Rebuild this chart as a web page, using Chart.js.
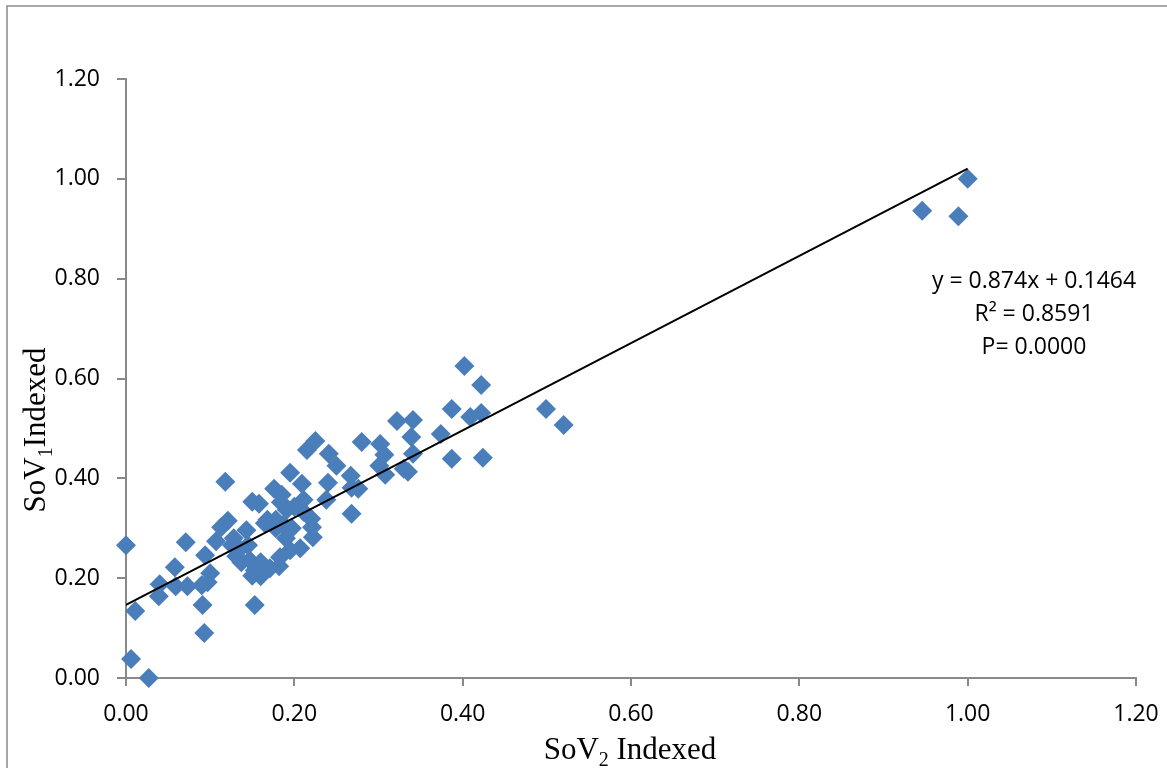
<!DOCTYPE html>
<html lang="en">
<head>
    <meta charset="UTF-8">
    <title>SoV1 vs SoV2 Indexed</title>
    <script src="https://cdn.jsdelivr.net/npm/chart.js"></script>
    <style>
        body { margin: 0; background: #fff; }
        canvas { display: block; }
    </style>
</head>
<body>
    <canvas id="sovChart" width="1167" height="768"></canvas>

    <script>
        // SoV2 Indexed (x) and SoV1 Indexed (y)
        const sov2 = [
            0.000, 0.011, 0.006, 0.027, 0.040, 0.039, 0.058, 0.071, 0.059, 0.073,
            0.090, 0.094, 0.091, 0.093, 0.100, 0.097, 0.107, 0.118, 0.113, 0.121,
            0.126, 0.131, 0.137, 0.143, 0.145, 0.150, 0.158, 0.147, 0.153, 0.153,
            0.162, 0.168, 0.171, 0.176, 0.178, 0.183, 0.182, 0.185, 0.187, 0.191,
            0.195, 0.197, 0.195, 0.207, 0.209, 0.211, 0.211, 0.215, 0.220, 0.221,
            0.222, 0.225, 0.238, 0.240, 0.241, 0.250, 0.267, 0.268, 0.268, 0.276,
            0.280, 0.302, 0.301, 0.307, 0.308, 0.322, 0.330, 0.335, 0.339, 0.341,
            0.341, 0.374, 0.387, 0.387, 0.402, 0.409, 0.422, 0.422, 0.424, 0.499,
            0.520, 0.946, 0.989, 1.000,
            0.165, 0.160, 0.178, 0.190, 0.128, 0.135, 0.150, 0.160, 0.184, 0.200
        ];
        const sov1 = [
            0.266, 0.134, 0.038, 0.000, 0.188, 0.164, 0.222, 0.272, 0.184, 0.184,
            0.186, 0.246, 0.146, 0.090, 0.210, 0.192, 0.274, 0.393, 0.302, 0.315,
            0.266, 0.244, 0.232, 0.296, 0.266, 0.353, 0.349, 0.236, 0.216, 0.146,
            0.214, 0.317, 0.220, 0.379, 0.317, 0.242, 0.224, 0.367, 0.307, 0.337,
            0.411, 0.300, 0.256, 0.260, 0.389, 0.357, 0.333, 0.457, 0.319, 0.302,
            0.282, 0.475, 0.357, 0.391, 0.449, 0.425, 0.405, 0.329, 0.381, 0.379,
            0.473, 0.469, 0.425, 0.447, 0.407, 0.515, 0.419, 0.413, 0.483, 0.517,
            0.449, 0.489, 0.539, 0.439, 0.625, 0.523, 0.587, 0.531, 0.441, 0.539,
            0.507, 0.936, 0.925, 1.000,
            0.310, 0.232, 0.300, 0.280, 0.280, 0.258, 0.205, 0.204, 0.352, 0.343
        ];

        const xTicks = [0, 0.2, 0.4, 0.6, 0.8, 1.0, 1.2];
        const yTicks = [0, 0.2, 0.4, 0.6, 0.8, 1.0, 1.2];

        // linear trend shown on the chart
        const trendSlope = 0.874;
        const trendIntercept = 0.1464;
        const trendX = [0, 1];
        const equationLines = ['y = 0.874x + 0.1464', 'R\u00B2 = 0.8591', 'P= 0.0000'];

        const axisGray = '#898989';
        const tickFont = { family: "'Open Sans', sans-serif", size: 23 };

        function drawTitle(ctx, parts, cx, cy, angle) {
            ctx.save();
            ctx.translate(cx, cy);
            ctx.rotate(angle);
            const big = '31px "Liberation Serif", serif';
            const small = '20px "Liberation Serif", serif';
            let w = 0;
            parts.forEach(p => { ctx.font = p.sub ? small : big; w += ctx.measureText(p.t).width; });
            let x = -w / 2;
            ctx.textAlign = 'left';
            ctx.textBaseline = 'alphabetic';
            ctx.fillStyle = '#000';
            parts.forEach(p => {
                ctx.font = p.sub ? small : big;
                ctx.fillText(p.t, x, p.sub ? 7 : 0);
                x += ctx.measureText(p.t).width;
            });
            ctx.restore();
        }

        const decorations = {
            id: 'decorations',
            afterDraw(chart) {
                const ctx = chart.ctx;
                ctx.save();
                // outer frame of the chart object
                ctx.strokeStyle = '#8c8c8c';
                ctx.lineWidth = 1.5;
                ctx.strokeRect(7, 6, 1200, 800);

                // regression label
                ctx.fillStyle = '#000';
                ctx.font = "23px 'Open Sans', sans-serif";
                ctx.textAlign = 'center';
                ctx.textBaseline = 'middle';
                equationLines.forEach((line, i) => {
                    ctx.fillText(line, 1034, 281 + i * 33);
                });
                ctx.restore();

                drawTitle(ctx, [{ t: 'SoV' }, { t: '2', sub: true }, { t: ' Indexed' }], 630, 759, 0);
                drawTitle(ctx, [{ t: 'SoV' }, { t: '1', sub: true }, { t: 'Indexed' }], 45, 430, -Math.PI / 2);
            }
        };

        const ctx = document.getElementById('sovChart').getContext('2d');
        new Chart(ctx, {
            type: 'scatter',
            data: {
                datasets: [
                    {
                        type: 'line',
                        data: trendX.map(x => ({ x: x, y: trendSlope * x + trendIntercept })),
                        borderColor: '#000',
                        borderWidth: 2,
                        pointRadius: 0,
                        fill: false,
                        order: 0
                    },
                    {
                        data: sov2.map((x, i) => ({ x: x, y: sov1[i] })),
                        pointStyle: 'rectRot',
                        pointRadius: 10,
                        backgroundColor: '#4A7EBB',
                        borderColor: '#4A7EBB',
                        borderWidth: 0,
                        clip: false,
                        order: 1
                    }
                ]
            },
            options: {
                responsive: false,
                animation: false,
                events: [],
                layout: { padding: { left: 0, top: 79, right: 31, bottom: 0 } },
                plugins: {
                    legend: { display: false },
                    tooltip: { enabled: false }
                },
                scales: {
                    x: {
                        type: 'linear',
                        min: 0,
                        max: 1.2,
                        afterBuildTicks: scale => { scale.ticks = xTicks.map(v => ({ value: v })); },
                        afterFit: scale => {
                            scale.height = 90;
                            scale.paddingLeft = 0;
                            scale.paddingRight = 0;
                        },
                        grid: { drawOnChartArea: false, color: axisGray, lineWidth: 2, tickLength: 8 },
                        border: { color: axisGray, width: 2 },
                        ticks: {
                            color: '#000',
                            font: tickFont,
                            padding: 15,
                            maxRotation: 0,
                            callback: v => v.toFixed(2)
                        }
                    },
                    y: {
                        type: 'linear',
                        min: 0,
                        max: 1.2,
                        afterBuildTicks: scale => { scale.ticks = yTicks.map(v => ({ value: v })); },
                        afterFit: scale => {
                            scale.width = 126;
                            scale.paddingTop = 0;
                            scale.paddingBottom = 0;
                        },
                        grid: { drawOnChartArea: false, color: axisGray, lineWidth: 2, tickLength: 9 },
                        border: { color: axisGray, width: 2 },
                        ticks: {
                            color: '#000',
                            font: tickFont,
                            padding: 17,
                            callback: v => v.toFixed(2)
                        }
                    }
                }
            },
            plugins: [decorations]
        });
    </script>
</body>
</html>
